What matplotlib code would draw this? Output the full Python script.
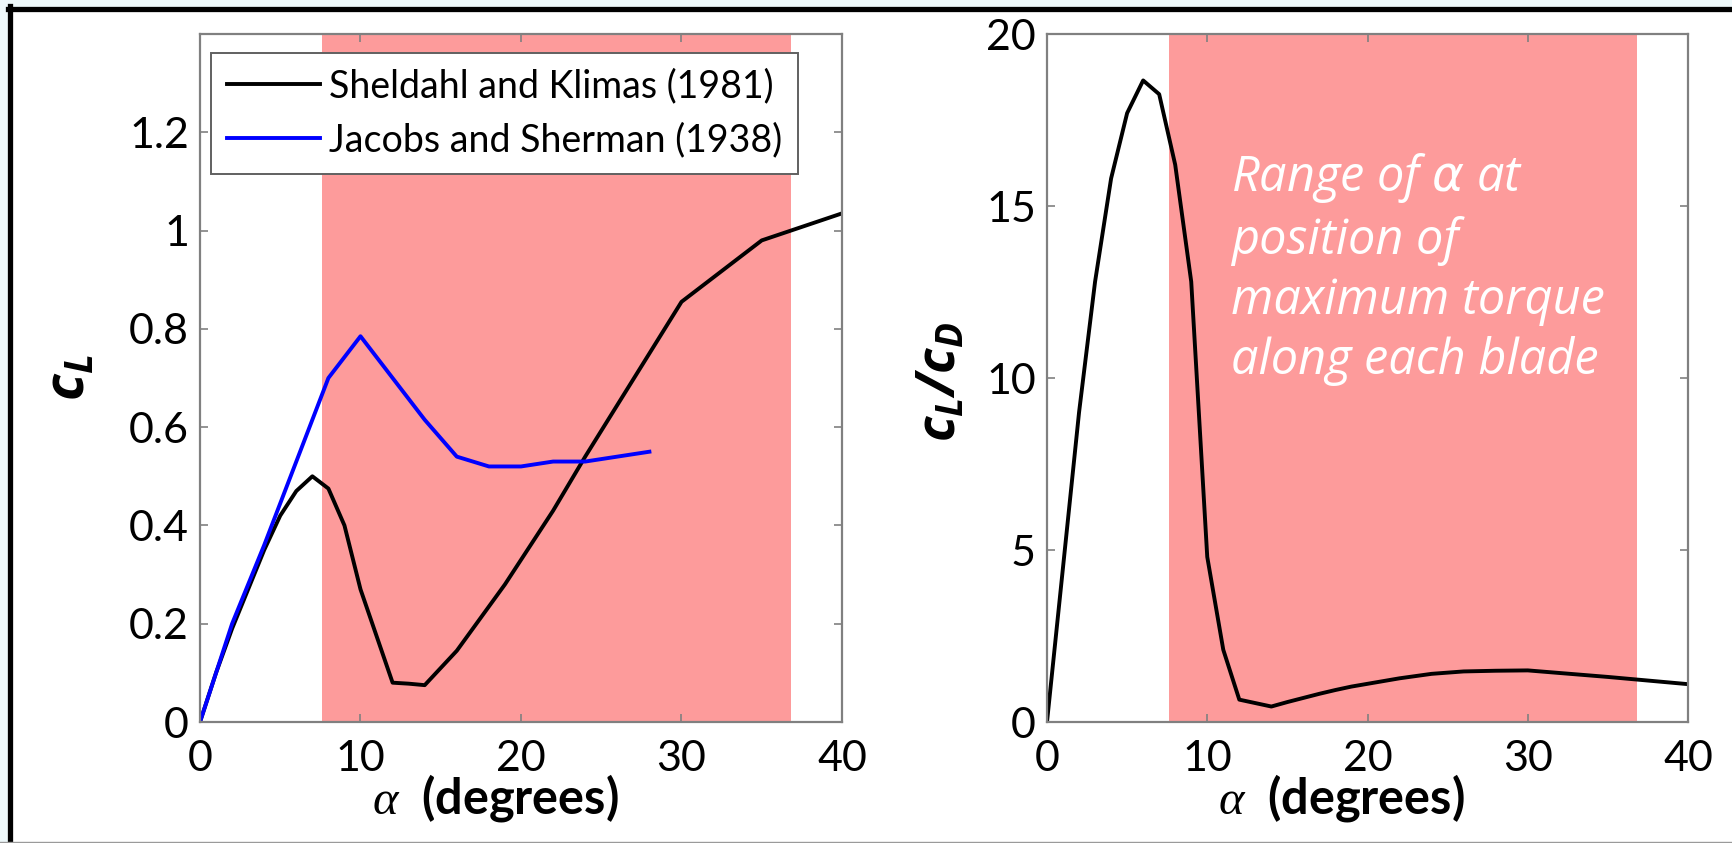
import numpy as np
import matplotlib.pyplot as plt
from matplotlib import ticker
from matplotlib.lines import Line2D
from matplotlib.patches import Rectangle

# lift coefficient vs angle of attack
alpha_sk = [0, 1, 2, 3, 4, 5, 6, 7, 8, 9, 10, 11, 12, 13, 14, 15, 16, 17, 18,
            19, 20, 22, 24, 26, 28, 30, 35, 40]
cl_sk = [0, 0.10, 0.19, 0.27, 0.35, 0.42, 0.47, 0.50, 0.475, 0.40, 0.27, 0.175,
         0.08, 0.078, 0.075, 0.11, 0.145, 0.19, 0.235, 0.28, 0.33, 0.43, 0.54,
         0.645, 0.75, 0.855, 0.98, 1.035]

alpha_js = [0, 1, 2, 3, 4, 5, 6, 7, 8, 10, 12, 14, 16, 18, 20, 22, 24, 26, 28]
cl_js = [0, 0.10, 0.20, 0.28, 0.36, 0.445, 0.53, 0.615, 0.70, 0.785, 0.70,
         0.615, 0.54, 0.52, 0.52, 0.53, 0.53, 0.54, 0.55]

# lift to drag ratio
alpha_ld = [0, 1, 2, 3, 4, 5, 6, 7, 8, 9, 10, 11, 12, 13, 14, 15, 16, 17, 18,
            19, 20, 22, 24, 26, 28, 30, 35, 40]
ld = [0, 4.5, 9.0, 12.8, 15.8, 17.7, 18.65, 18.25, 16.2, 12.8, 4.8, 2.1, 0.65,
      0.55, 0.45, 0.58, 0.7, 0.82, 0.93, 1.03, 1.11, 1.27, 1.4, 1.47, 1.49,
      1.5, 1.31, 1.1]

# alpha range at max torque position
span_lo, span_hi = 7.6, 36.8

cl_ticks = [0, 0.2, 0.4, 0.6, 0.8, 1, 1.2]
ld_ticks = [0, 5, 10, 15, 20]
alpha_ticks = [0, 10, 20, 30, 40]

plt.rcParams['font.family'] = ['Lato', 'DejaVu Sans']
plt.rcParams['mathtext.fontset'] = 'custom'
plt.rcParams['mathtext.it'] = 'Liberation Serif:italic'
plt.rcParams['mathtext.rm'] = 'Lato'
plt.rcParams['mathtext.sf'] = 'DejaVu Sans:italic'
plt.rcParams['mathtext.bfit'] = 'Open Sans:italic:bold'

PINK = '#fd9b9b'
GREY = '#808080'


def style_axes(ax, yticks):
    ax.set_xlim(0, 40)
    ax.set_xticks(alpha_ticks)
    ax.set_yticks(yticks)
    ax.yaxis.set_major_formatter(ticker.FormatStrFormatter('%g'))
    ax.tick_params(direction='in', top=True, right=True, length=6, width=1.2,
                   color=GREY, labelsize=31)
    ax.tick_params(axis='x', pad=13)
    ax.tick_params(axis='y', pad=8)
    for s in ax.spines.values():
        s.set_color(GREY)
        s.set_linewidth(1.6)
    ax.axvspan(span_lo, span_hi, color=PINK, lw=0, zorder=0)
    ax.set_xlabel(r'$\alpha$  (degrees)', fontsize=35, fontweight='bold',
                  va='center')
    ax.xaxis.set_label_coords(0.46, -0.11)


def make_plot():
    fig = plt.figure(figsize=(17.33, 8.43), dpi=100)
    fig.patch.set_facecolor('#eef8fa')
    W, H = 1733, 843
    fig.add_artist(Rectangle((8 / W, 0), 1, (H - 8) / H, transform=fig.transFigure,
                             facecolor='white', edgecolor='none', zorder=-1))
    fig.add_artist(Line2D([8 / W, 1], [1 - 8.5 / H, 1 - 8.5 / H],
                          transform=fig.transFigure, color='black', lw=3.8))
    fig.add_artist(Line2D([10.5 / W, 10.5 / W], [0, 1 - 6 / H],
                          transform=fig.transFigure, color='black', lw=3.8))
    fig.add_artist(Line2D([0, 1], [0.6 / H, 0.6 / H],
                          transform=fig.transFigure, color='#9a9a9a', lw=1))

    ax1 = fig.add_axes([200 / W, 121 / H, 642 / W, 688 / H])
    ax2 = fig.add_axes([1047 / W, 121 / H, 641 / W, 688 / H])

    ax1.plot(alpha_sk, cl_sk, color='black', lw=2.8,
             label='Sheldahl and Klimas (1981)')
    ax1.plot(alpha_js, cl_js, color='#0000ff', lw=2.8,
             label='Jacobs and Sherman (1938)')
    ax1.set_ylim(0, 1.4)
    style_axes(ax1, cl_ticks)
    ax1.set_ylabel(r'$\mathbfit{c_L}$', fontsize=40, va='center')
    ax1.yaxis.set_label_coords(-0.204, 0.5)
    leg = ax1.legend(loc='upper left', bbox_to_anchor=(0.017, 0.973),
                     borderaxespad=0, fontsize=27, fancybox=False,
                     handlelength=2.5, handletextpad=0.22, labelspacing=0.48,
                     borderpad=0.42, framealpha=1)
    leg.get_frame().set_edgecolor('#606060')
    leg.get_frame().set_linewidth(1.4)

    ax2.plot(alpha_ld, ld, color='black', lw=2.8)
    ax2.set_ylim(0, 20)
    style_axes(ax2, ld_ticks)
    ax2.set_ylabel(r'$\mathbfit{c_L/c_D}$', fontsize=38, va='center')
    ax2.yaxis.set_label_coords(-0.167, 0.494)
    ax2.text(11.5, 16.6,
             'Range of $\\mathsf{\\alpha}$ at\nposition of\nmaximum torque\nalong each blade',
             color='white', fontsize=35, style='italic', va='top', ha='left',
             family=['Open Sans', 'DejaVu Sans'], linespacing=1.28)

    fig.savefig('out.png', dpi=100, facecolor=fig.get_facecolor())


if __name__ == "__main__":
    make_plot()
